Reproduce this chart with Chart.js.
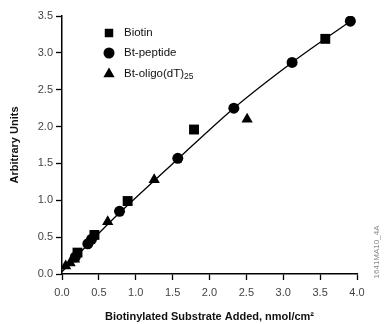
<!DOCTYPE html>
<html><head><meta charset="utf-8">
<script src="https://cdn.jsdelivr.net/npm/chart.js@4/dist/chart.umd.min.js"></script>
<style>html,body{margin:0;padding:0;background:#fff}#wrap{width:387px;height:324px;position:relative}</style>
</head><body><div id="wrap"><canvas id="c" width="387" height="324"></canvas></div>
<script>
const biotinX = [0.21, 0.44, 0.89, 1.79, 3.57];
const biotinY = [0.29, 0.53, 0.99, 1.96, 3.19];
const peptideX = [0.18, 0.35, 0.40, 0.78, 1.57, 2.33, 3.12, 3.91];
const peptideY = [0.23, 0.41, 0.47, 0.85, 1.57, 2.25, 2.87, 3.43];
const oligoX = [0.05, 0.11, 0.17, 0.62, 1.25, 2.51];
const oligoY = [0.11, 0.15, 0.20, 0.71, 1.28, 2.10];
const fitX = [0.0, 0.40, 0.78, 1.57, 2.33, 3.12, 3.91];
const fitY = [0.03, 0.45, 0.83, 1.56, 2.25, 2.87, 3.43];
const xTicks = [0, 0.5, 1, 1.5, 2, 2.5, 3, 3.5, 4];
const yTicks = [0, 0.5, 1, 1.5, 2, 2.5, 3, 3.5];
const seriesNames = ['Biotin', 'Bt-peptide', 'Bt-oligo(dT)'];
const xTitle = 'Biotinylated Substrate Added, nmol/cm\u00B2';
const yTitle = 'Arbitrary Units';
const sideNote = '1641MA10_4A';

const pts = (xs, ys) => xs.map((x, i) => ({x, y: ys[i]}));
const FONT = "'Liberation Sans', Arial, sans-serif";

const legendPlugin = {
  id: 'customLegend',
  afterDraw(chart) {
    const ctx = chart.ctx;
    ctx.save();
    ctx.fillStyle = '#000';
    const styles = ['rect', 'circle', 'triangle'];
    const radii = [6, 5.5, 6.5];
    const x0 = 109, ys = [33, 53, 74];
    styles.forEach((s, i) => {
      Chart.helpers.drawPoint(ctx, {pointStyle: s, radius: radii[i], borderWidth: 0}, x0, ys[i]);
    });
    ctx.font = '11.5px ' + FONT;
    ctx.textBaseline = 'middle';
    ctx.fillStyle = '#111';
    seriesNames.forEach((n, i) => ctx.fillText(n, 124, ys[i]));
    const w = ctx.measureText(seriesNames[2]).width;
    ctx.font = '8.5px ' + FONT;
    ctx.fillText('25', 124 + w, ys[2] + 3);
    ctx.translate(377, 252);
    ctx.rotate(-Math.PI / 2);
    ctx.font = '8px ' + FONT;
    ctx.fillStyle = '#888';
    ctx.textAlign = 'center';
    ctx.fillText(sideNote, 0, 0);
    ctx.restore();
  }
};

const gridOpts = {display: true, drawOnChartArea: false, drawTicks: true, tickLength: 6, tickColor: '#000', tickWidth: 1.3};

new Chart(document.getElementById('c'), {
  type: 'scatter',
  data: {
    datasets: [
      {label: 'fit', data: pts(fitX, fitY), showLine: true, borderColor: '#000', borderWidth: 1.3, pointRadius: 0, tension: 0.3, order: 5},
      {label: seriesNames[0], data: pts(biotinX, biotinY), pointStyle: 'rect', pointRadius: 7, backgroundColor: '#000', borderColor: '#000', borderWidth: 0},
      {label: seriesNames[1], data: pts(peptideX, peptideY), pointStyle: 'circle', pointRadius: 5.5, backgroundColor: '#000', borderColor: '#000', borderWidth: 0},
      {label: seriesNames[2], data: pts(oligoX, oligoY), pointStyle: 'triangle', pointRadius: 6.5, backgroundColor: '#000', borderColor: '#000', borderWidth: 0}
    ]
  },
  options: {
    responsive: false,
    animation: false,
    layout: {padding: {top: 16, right: 30, left: 8, bottom: 0}},
    plugins: {legend: {display: false}, tooltip: {enabled: false}},
    scales: {
      x: {
        type: 'linear', min: 0, max: 4,
        afterBuildTicks: s => { s.ticks = xTicks.map(v => ({value: v})); },
        afterFit: s => { s.height = 50; },
        grid: gridOpts,
        border: {display: true, color: '#000', width: 1.5},
        ticks: {color: '#444', font: {family: FONT, size: 11}, padding: 6, callback: v => v.toFixed(1), maxRotation: 0},
        title: {display: true, text: xTitle, color: '#111', font: {family: FONT, size: 11, weight: 'bold'}, padding: {top: 3, bottom: 0}}
      },
      y: {
        type: 'linear', min: 0, max: 3.5,
        afterBuildTicks: s => { s.ticks = yTicks.map(v => ({value: v})); },
        afterFit: s => { s.width = 54; },
        grid: gridOpts,
        border: {display: true, color: '#000', width: 1.5},
        ticks: {color: '#444', font: {family: FONT, size: 11}, padding: 3, callback: v => v.toFixed(1)},
        title: {display: true, text: yTitle, color: '#111', font: {family: FONT, size: 11, weight: 'bold'}, padding: {top: 0, bottom: 4}}
      }
    }
  },
  plugins: [legendPlugin]
});
</script></body></html>
